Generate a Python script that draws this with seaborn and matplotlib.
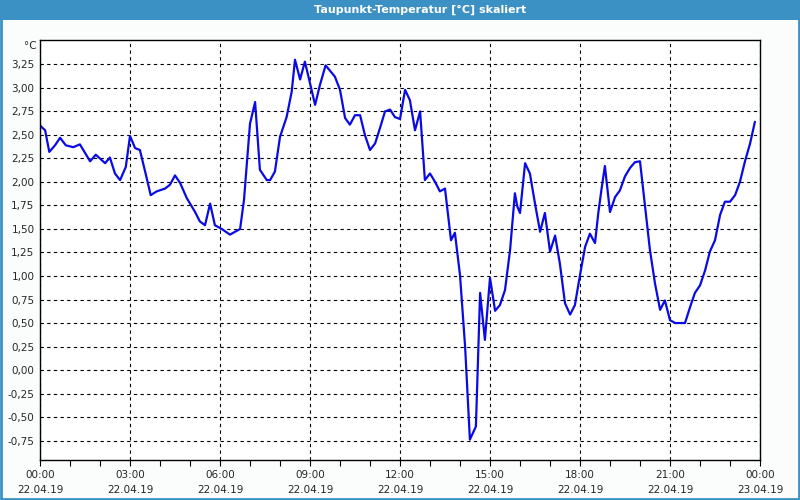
import matplotlib
matplotlib.use("Agg")
import matplotlib.pyplot as plt
from matplotlib.patches import Rectangle
from matplotlib.ticker import FixedLocator, FuncFormatter, MultipleLocator
import seaborn as sns
import pandas as pd

# ---- data ----
hours = [0.00, 0.17, 0.31, 0.50, 0.67, 0.86, 1.11, 1.33, 1.67, 1.86, 2.17, 2.33, 2.50, 2.67, 2.86,
         3.00, 3.17, 3.33, 3.52, 3.69, 3.89, 4.17, 4.33, 4.50, 4.67, 4.89, 5.17, 5.33, 5.50, 5.67,
         5.83, 6.06, 6.33, 6.67, 6.80, 7.00, 7.17, 7.33, 7.56, 7.67, 7.83, 8.00, 8.22, 8.39, 8.50,
         8.67, 8.83, 9.00, 9.17, 9.33, 9.52, 9.83, 10.00, 10.17, 10.33, 10.50, 10.67, 10.83, 11.00,
         11.17, 11.33, 11.50, 11.67, 11.83, 12.00, 12.17, 12.33, 12.50, 12.67, 12.83, 13.00, 13.17,
         13.33, 13.50, 13.70, 13.83, 14.00, 14.17, 14.33, 14.53, 14.61, 14.67, 14.83, 15.00, 15.17,
         15.33, 15.50, 15.67, 15.83, 15.91, 16.00, 16.17, 16.33, 16.50, 16.67, 16.83, 17.00, 17.17,
         17.33, 17.50, 17.67, 17.83, 18.00, 18.17, 18.33, 18.50, 18.61, 18.72, 18.83, 19.00, 19.17,
         19.33, 19.50, 19.67, 19.83, 20.00, 20.17, 20.33, 20.50, 20.67, 20.83, 21.00, 21.17, 21.33,
         21.50, 21.67, 21.83, 22.00, 22.17, 22.33, 22.50, 22.67, 22.83, 23.00, 23.17, 23.33, 23.50,
         23.67, 23.83]
dewpoint = [2.60, 2.55, 2.32, 2.39, 2.47, 2.39, 2.37, 2.40, 2.22, 2.29, 2.20, 2.26, 2.09, 2.02, 2.16,
            2.49, 2.36, 2.34, 2.09, 1.86, 1.90, 1.93, 1.97, 2.07, 1.99, 1.83, 1.68, 1.58, 1.54, 1.77,
            1.54, 1.50, 1.44, 1.50, 1.81, 2.62, 2.85, 2.13, 2.02, 2.02, 2.11, 2.48, 2.69, 2.96, 3.30,
            3.09, 3.28, 3.05, 2.82, 3.03, 3.24, 3.12, 2.98, 2.68, 2.61, 2.71, 2.71, 2.50, 2.34,
            2.41, 2.57, 2.75, 2.77, 2.69, 2.67, 2.98, 2.87, 2.55, 2.75, 2.02, 2.09, 2.00,
            1.90, 1.93, 1.38, 1.46, 1.01, 0.25, -0.74, -0.60, 0.21, 0.82, 0.32, 0.98, 0.63,
            0.69, 0.85, 1.28, 1.88, 1.74, 1.67, 2.20, 2.09, 1.77, 1.47, 1.67, 1.26, 1.43,
            1.13, 0.71, 0.59, 0.69, 1.01, 1.31, 1.45, 1.35, 1.67, 1.93, 2.17, 1.68, 1.84,
            1.91, 2.06, 2.15, 2.21, 2.22, 1.74, 1.28, 0.92, 0.64, 0.74, 0.53, 0.50, 0.50,
            0.50, 0.67, 0.82, 0.90, 1.06, 1.26, 1.38, 1.65, 1.79, 1.79, 1.86, 2.00, 2.22,
            2.41, 2.64]
major_hours = [0, 3, 6, 9, 12, 15, 18, 21, 24]
major_labels = ["00:00\n22.04.19", "03:00\n22.04.19", "06:00\n22.04.19", "09:00\n22.04.19",
                "12:00\n22.04.19", "15:00\n22.04.19", "18:00\n22.04.19", "21:00\n22.04.19",
                "00:00\n23.04.19"]
y_ticks = [-0.75, -0.5, -0.25, 0.0, 0.25, 0.5, 0.75, 1.0, 1.25, 1.5, 1.75, 2.0, 2.25, 2.5,
           2.75, 3.0, 3.25]
title = "Taupunkt-Temperatur [°C] skaliert"
unit = "°C"

df = pd.DataFrame({"h": hours, "v": dewpoint})

sns.set_theme(style="white")
plt.rcParams["font.family"] = ["DejaVu Sans"]

fig = plt.figure(figsize=(8, 5), dpi=100, facecolor="#FBFDFD")
ax = fig.add_axes([40 / 800, 40 / 500, 720 / 800, 420 / 500])
ax.set_facecolor("white")

sns.lineplot(data=df, x="h", y="v", ax=ax, color="#0A0AE6", linewidth=1.6)

ax.set_xlim(0, 24)
ax.set_ylim(-0.957, 3.51)
ax.set_xlabel("")
ax.set_ylabel("")

ax.xaxis.set_major_locator(FixedLocator(major_hours))
ax.set_xticklabels(major_labels)
ax.xaxis.set_minor_locator(MultipleLocator(1))
ax.yaxis.set_major_locator(FixedLocator(y_ticks))
ax.yaxis.set_major_formatter(FuncFormatter(lambda v, p: f"{v:.2f}".replace(".", ",")))

ax.tick_params(axis="x", which="both", direction="out", length=4, width=0.8, color="black",
               labelsize=7.5, pad=3, bottom=True)
ax.tick_params(axis="y", which="both", length=0, labelsize=7.5, pad=4, left=True)
for lab in ax.get_xticklabels():
    lab.set_linespacing(1.6)

ax.grid(True, which="major", color="black", linestyle=(0, (3, 3)), linewidth=0.8)
for s in ax.spines.values():
    s.set_color("black")
    s.set_linewidth(1.0)

fig.text(37 / 800, 1 - 46 / 500, unit, ha="right", va="center", fontsize=7.5)

# title bar and frame
fig.patches.append(Rectangle((0, 1 - 20 / 500), 1, 20 / 500, transform=fig.transFigure,
                             facecolor="#3C91C4", edgecolor="none", zorder=0))
fig.patches.append(Rectangle((0.001, 0.002), 0.998, 0.996, transform=fig.transFigure,
                             facecolor="none", edgecolor="#3C91C4", linewidth=2, zorder=5))
fig.text(420 / 800, 1 - 10 / 500, title, ha="center", va="center", color="white",
         fontsize=8, fontweight="bold")

fig.savefig("out.png", dpi=100, facecolor=fig.get_facecolor())
